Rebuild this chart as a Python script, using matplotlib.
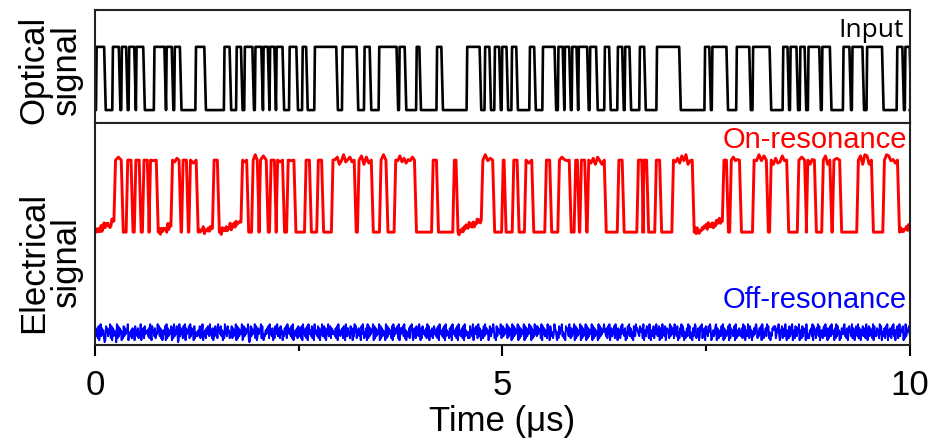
import numpy as np
import matplotlib.pyplot as plt

plt.rcParams['font.family'] = ['Liberation Sans', 'DejaVu Sans']

# high periods of the optical input (us)
input_pulses = [
    (0.01, 0.11), (0.21, 0.29), (0.32, 0.38), (0.41, 0.48), (0.50, 0.59),
    (0.72, 0.85), (0.87, 0.94), (0.97, 1.04), (1.23, 1.34), (1.58, 1.65),
    (1.73, 1.79), (1.83, 1.93), (1.96, 2.04), (2.06, 2.12), (2.14, 2.20),
    (2.22, 2.30), (2.38, 2.47), (2.54, 2.59), (2.69, 2.96), (3.03, 3.21),
    (3.30, 3.37), (3.48, 3.70), (3.73, 3.80), (3.94, 3.98), (4.19, 4.25),
    (4.56, 4.72), (4.78, 4.84), (4.90, 4.96), (4.99, 5.05), (5.11, 5.17),
    (5.33, 5.39), (5.49, 5.64), (5.68, 5.74), (5.76, 5.82), (5.85, 5.91),
    (5.93, 6.04), (6.07, 6.15), (6.25, 6.31), (6.41, 6.47), (6.50, 6.56),
    (6.68, 6.74), (6.89, 7.17), (7.48, 7.54), (7.57, 7.75), (7.87, 8.03),
    (8.07, 8.28), (8.44, 8.50), (8.53, 8.61), (8.65, 8.71), (8.75, 8.89),
    (8.92, 9.02), (9.18, 9.26), (9.29, 9.42), (9.47, 9.66), (9.84, 9.91),
    (9.94, 10.0),
]

# high periods of the on-resonance electrical signal (us)
on_pulses = [
    (0.23, 0.32), (0.38, 0.44), (0.48, 0.54), (0.58, 0.64), (0.66, 0.75),
    (0.93, 1.03), (1.06, 1.12), (1.15, 1.24), (1.44, 1.50), (1.79, 1.86),
    (1.92, 1.99), (2.01, 2.10), (2.14, 2.20), (2.22, 2.30), (2.35, 2.44),
    (2.57, 2.63), (2.72, 2.78), (2.90, 3.18), (3.22, 3.39), (3.49, 3.57),
    (3.67, 3.92), (4.13, 4.19), (4.39, 4.43), (4.74, 4.88), (4.99, 5.02),
    (5.12, 5.18), (5.27, 5.36), (5.52, 5.58), (5.68, 5.82), (5.88, 5.92),
    (5.95, 6.01), (6.04, 6.25), (6.41, 6.47), (6.65, 6.71), (6.72, 6.77),
    (6.87, 6.93), (7.08, 7.33), (7.70, 7.75), (7.79, 7.91), (8.07, 8.24),
    (8.28, 8.49), (8.62, 8.71), (8.73, 8.83), (8.92, 9.02), (9.05, 9.14),
    (9.35, 9.53), (9.67, 9.85),
]
# baseline creep in the long low gaps (gap index -> rise)
on_drift = {0: 1.1, 5: 0.6, 8: 0.4, 9: 1.0, 23: 1.2, 37: 1.1, 47: 0.5}

# off-resonance trace, noise levels read by eye (0-9)
off_noise = (
    "47362815937462018573649281736450928374615283746591"
    "45362745184637254916372845563729418563724495837261"
    "36481927364581729364850193746283917465829374618253"
    "53648274915362748539462715384629574836152947385624"
    "58273649182736459128374659201837465928137465928314"
    "36475829463715284693572846153748296547382915463728"
    "63728194637281945638271946538271649358271649358274"
    "64537281946355728419637452846173958264735184962537"
    "19283746591827364591827364519283746528193746582917"
    "47583926145372869413752846395172846537294815637248"
    "46372819465372819364527381946537281946357281936452"
    "52846391754862937415628394756128437596241837564923"
    "83746592837461928374659182736459182736495817263948"
    "38475629184736529471863524976315284769352418675394"
    "27364918273645918273649182736459182736451928374659"
    "65372849157364829451736284956371528493762518439675"
    "43856729146385729416358274963581742956381475629384"
    "57294638152749386152473968254173698245713869254718"
    "46385971246358917425638491726354819275634819263574"
    "35729481653972846153748962537481962547396825143768"
    "68247593164825739416528374915628437591642837561942"
    "42657391846275938146527839461725839465172938461527"
    "54893627148563927415863927416583742961583746291835"
    "37562948153672849163752849361578249365781429365784"
)

input_lo, input_hi = 0.0, 1.0
on_lo, on_hi = 11.3, 18.5
off_level = 1.2

noise = np.array([int(c) for c in off_noise]) - 4.5


def square(pulses, lo, hi, rise, fall, drift={}, jitter=0.0):
    t, y = [0.0], [lo]
    k = 0
    for i, (s, e) in enumerate(pulses + [(10.0, None)]):
        d = drift.get(i, 0)
        if d:
            g0 = t[-1]
            n = max(int((s - g0) / 0.012), 2)
            for j in range(1, n):
                t.append(g0 + (s - g0) * j / n)
                y.append(lo + d * j / n + 0.09 * noise[k % len(noise)])
                k += 1
        if e is None:
            t.append(10.0)
            y.append(lo + d)
            break
        t += [s, s + rise]
        y += [lo + d, hi]
        if jitter:
            n = max(int((e - s - rise) / 0.025), 1)
            for j in range(1, n):
                t.append(s + rise + (e - s - rise) * j / n)
                y.append(hi + jitter * noise[k % len(noise)])
                k += 3
        t += [e, e + fall]
        y += [hi, lo]
    return t, y


fig = plt.figure(figsize=(9.33, 4.46), dpi=100)
ax1 = fig.add_axes([0.102, 0.724, 0.873, 0.254])
ax2 = fig.add_axes([0.102, 0.226, 0.873, 0.498])

t_in, y_in = square(input_pulses, input_lo, input_hi, 0.008, 0.02)
ax1.plot(t_in, y_in, color='black', lw=1.9)
ax1.set_xlim(0, 10)
ax1.set_ylim(-0.206, 1.586)
ax1.set_xticks([])
ax1.set_yticks([])
ax1.text(0.993, 0.93, 'Input', transform=ax1.transAxes, ha='right', va='top',
         fontsize=19, family=['Open Sans', 'DejaVu Sans'])

t_on, y_on = square(on_pulses, on_lo, on_hi, 0.02, 0.025, on_drift, jitter=0.12)
ax2.plot(t_on, y_on, color='#ff0000', lw=2.1)
t_off = np.linspace(0, 10, len(noise))
ax2.plot(t_off, off_level + 0.2 * noise, color='#0000ff', lw=1.4)
ax2.set_xlim(0, 10)
ax2.set_ylim(0, 22.2)
ax2.set_yticks([])
ax2.set_xticks([0, 5, 10])
ax2.set_xticks([2.5, 7.5], minor=True)
ax2.tick_params(axis='x', which='major', direction='out', length=8, width=1.5,
                labelsize=25, pad=9)
ax2.tick_params(axis='x', which='minor', direction='out', length=4, width=1.5)
ax2.set_xlabel('Time (\u03bcs)', fontsize=25, labelpad=2)
ax2.text(0.997, 0.985, 'On-resonance', transform=ax2.transAxes, ha='right',
         va='top', fontsize=21, color='#ff0000')
ax2.text(0.997, 0.265, 'Off-resonance', transform=ax2.transAxes, ha='right',
         va='top', fontsize=21, color='#0000ff')

for ax in (ax1, ax2):
    for sp in ax.spines.values():
        sp.set_linewidth(1.5)
        sp.set_color('#222222')

fig.text(50 / 933, 1 - 70 / 446, 'Optical\nsignal', rotation=90, ha='center',
         va='center', fontsize=25, linespacing=1.0)
fig.text(50 / 933, 1 - 262 / 446, 'Electrical\nsignal', rotation=90, ha='center',
         va='center', fontsize=25, linespacing=1.0)

fig.savefig('out.png', dpi=100)
